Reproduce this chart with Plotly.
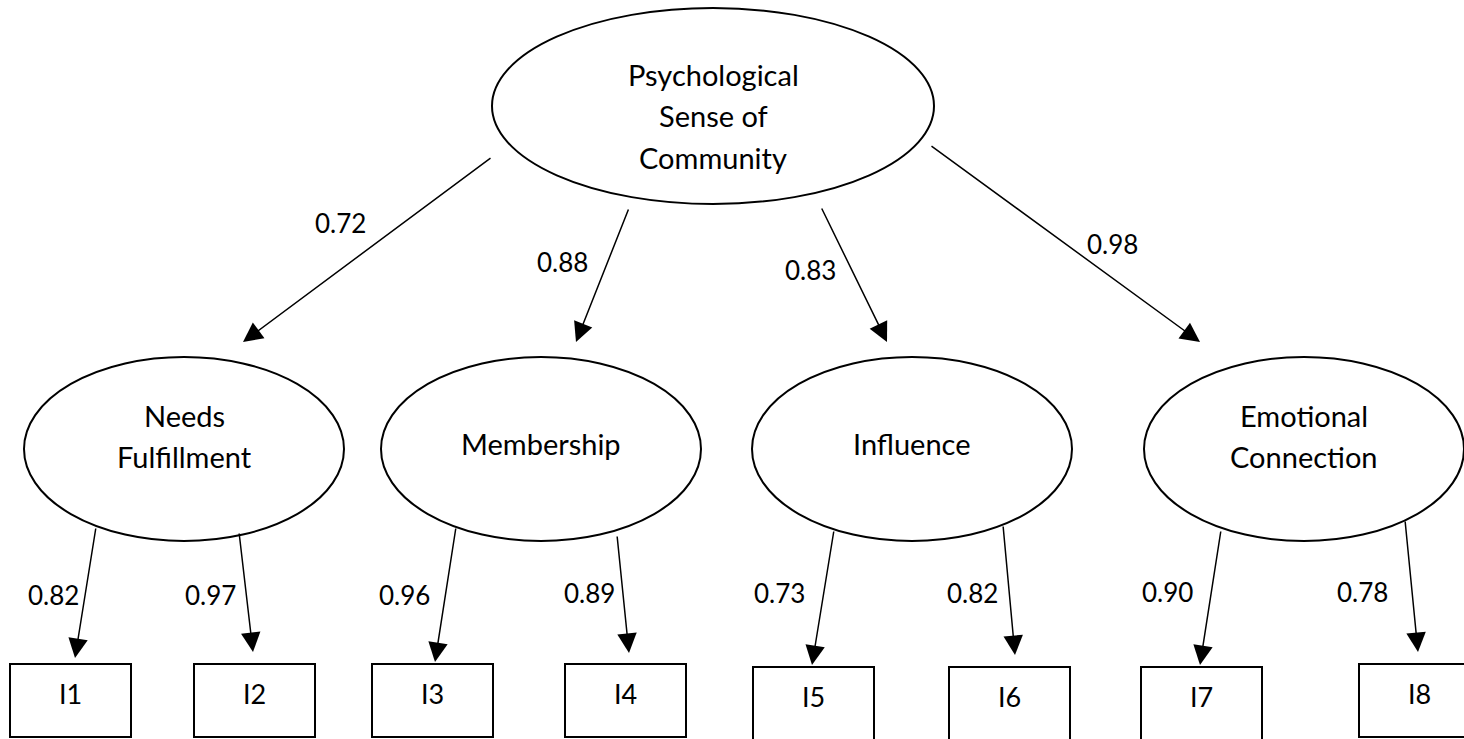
import plotly.graph_objects as go

# ---- data ----
top_factor_lines = ["Psychological", "Sense of", "Community"]
factor_lines = [["Needs", "Fulfillment"], ["Membership"], ["Influence"], ["Emotional", "Connection"]]
factor_loadings = [0.72, 0.88, 0.83, 0.98]
indicators = ["I1", "I2", "I3", "I4", "I5", "I6", "I7", "I8"]
item_loadings = [0.82, 0.97, 0.96, 0.89, 0.73, 0.82, 0.90, 0.78]

# ---- layout geometry (pixels in a 1464 x 739 canvas) ----
W, H = 1464, 739
FONT = "Lato, 'Open Sans', sans-serif"
FS_WORD = 29
FS_NUM = 26

top_center = (713, 106)
top_r = (221, 98)
top_line_y = [74, 115, 157]

factor_cx = [184, 541, 912, 1304]
factor_cy = 449
factor_r = (160, 92)

top_tails = [(492, 157), (629, 208), (821, 207), (930, 145)]
top_tips = [(243, 342), (576, 342), (887, 342), (1200, 342)]
top_label_pos = [(340, 223), (562, 262), (810, 270), (1112, 244)]

item_tails = [(96, 527), (239, 532), (456, 527), (617, 535), (834, 530), (1003, 525), (1221, 530), (1405, 520)]
item_tips = [(75, 658), (253, 652), (435, 662), (629, 653), (812, 665), (1015, 655), (1200, 665), (1418, 652)]
item_label_pos = [(53, 595), (210, 595), (404, 595), (589, 593), (779, 593), (972, 593), (1167, 592), (1362, 592)]

box_x0 = [10, 194, 372, 565, 753, 949, 1141, 1359]
box_top = [664, 664, 664, 664, 667, 667, 667, 664]
box_bottom = [737, 737, 737, 737, 760, 760, 760, 737]
box_w = 121

fig = go.Figure()
shapes = []
annotations = []

def txt(x, y, s, size):
    annotations.append(dict(x=x, y=y, xref="x", yref="y", text=s, showarrow=False,
                            font=dict(family=FONT, size=size, color="black"),
                            xanchor="center", yanchor="middle"))

# top latent
shapes.append(dict(type="circle", xref="x", yref="y",
                   x0=top_center[0] - top_r[0], x1=top_center[0] + top_r[0],
                   y0=top_center[1] - top_r[1], y1=top_center[1] + top_r[1],
                   line=dict(color="black", width=2), fillcolor="white"))
for line, y in zip(top_factor_lines, top_line_y):
    txt(top_center[0], y, line, FS_WORD)

# first-order factors
for cx, lines in zip(factor_cx, factor_lines):
    shapes.append(dict(type="circle", xref="x", yref="y",
                       x0=cx - factor_r[0], x1=cx + factor_r[0],
                       y0=factor_cy - factor_r[1], y1=factor_cy + factor_r[1],
                       line=dict(color="black", width=2), fillcolor="white"))
    if len(lines) == 1:
        txt(cx, 443, lines[0], FS_WORD)
    else:
        txt(cx, 415, lines[0], FS_WORD)
        txt(cx, 456, lines[1], FS_WORD)

# indicator boxes
for x0, y0, y1, name in zip(box_x0, box_top, box_bottom, indicators):
    shapes.append(dict(type="rect", xref="x", yref="y", x0=x0, x1=x0 + box_w, y0=y0, y1=y1,
                       line=dict(color="black", width=2), fillcolor="white"))
    txt(x0 + box_w / 2, y0 + 29, name, FS_NUM + 1)

# arrows
def arrow(tail, tip):
    annotations.append(dict(x=tip[0], y=tip[1], ax=tail[0], ay=tail[1],
                            xref="x", yref="y", axref="x", ayref="y",
                            text="", showarrow=True, arrowhead=2, arrowsize=2.6,
                            arrowwidth=1.5, arrowcolor="black", standoff=0))

for tail, tip, val, pos in zip(top_tails, top_tips, factor_loadings, top_label_pos):
    arrow(tail, tip)
    txt(pos[0], pos[1], f"{val:.2f}", FS_NUM)

for tail, tip, val, pos in zip(item_tails, item_tips, item_loadings, item_label_pos):
    arrow(tail, tip)
    txt(pos[0], pos[1], f"{val:.2f}", FS_NUM)

fig.update_layout(
    width=W, height=H,
    margin=dict(l=0, r=0, t=0, b=0),
    paper_bgcolor="white", plot_bgcolor="white",
    xaxis=dict(range=[0, W], visible=False, fixedrange=True),
    yaxis=dict(range=[H, 0], visible=False, fixedrange=True),
    shapes=shapes, annotations=annotations, showlegend=False,
)

fig.write_html("out.html", config={"displayModeBar": False},
               post_script="document.body.style.margin='0';document.body.style.overflow='hidden';")
